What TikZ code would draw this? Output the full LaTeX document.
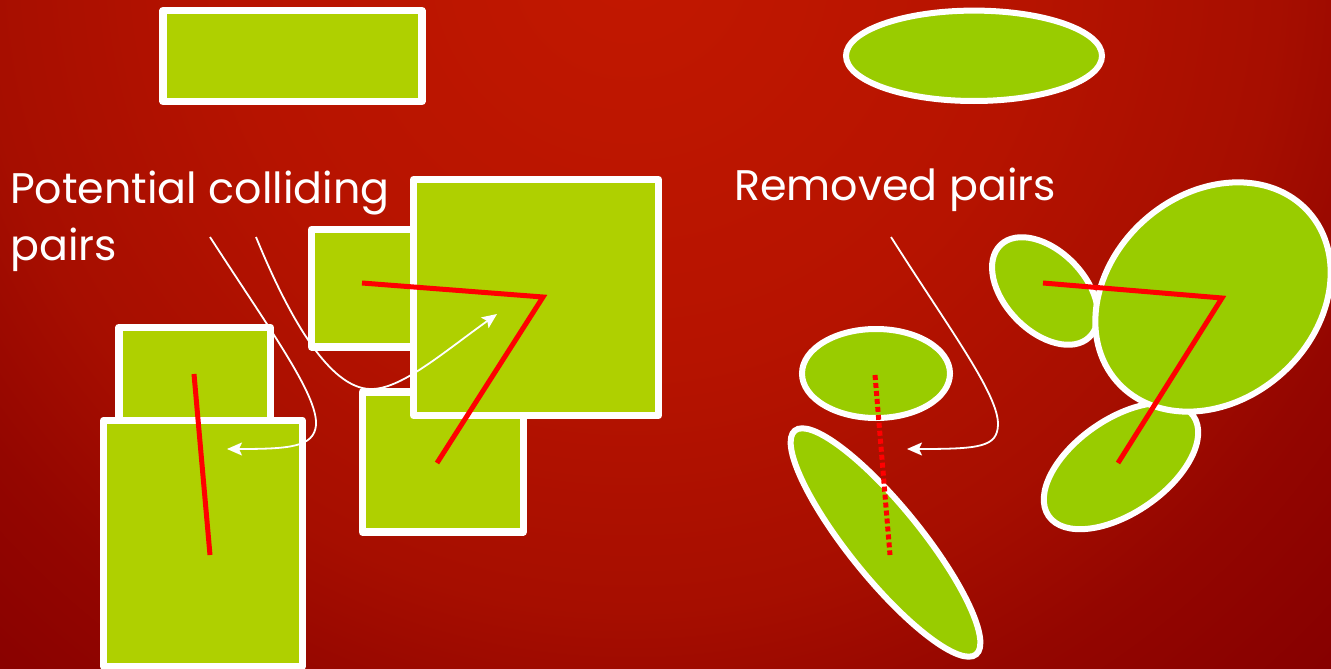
\documentclass[tikz,border=0pt]{standalone}
\usepackage{fontspec}
\setmainfont{Poppins}
\usetikzlibrary{arrows.meta,shapes.geometric}
\definecolor{bgA}{RGB}{194,24,0}
\definecolor{bgB}{RGB}{182,19,0}
\definecolor{bgC}{RGB}{166,14,0}
\definecolor{bgD}{RGB}{148,6,0}
\definecolor{bgE}{RGB}{134,0,0}
\definecolor{rectgreen}{RGB}{175,208,0}
\definecolor{ellgreen}{RGB}{153,204,0}
\definecolor{hotred}{RGB}{255,0,0}
\pgfdeclareradialshading{bgshade}{\pgfpoint{0bp}{0bp}}{color(0bp)=(bgA); color(10bp)=(bgB); color(16.25bp)=(bgC); color(20bp)=(bgD); color(25bp)=(bgE); color(50bp)=(bgE)}
\begin{document}
\begin{tikzpicture}[x=1pt,y=-1pt,
  rectbox/.style={rectangle, draw=white, fill=rectgreen, line width=7.2pt, line join=round, inner sep=0pt, outer sep=0pt},
  ellbox/.style={ellipse, draw=white, fill=ellgreen, line width=6pt, inner sep=0pt, outer sep=0pt},
  redline/.style={draw=hotred, line width=5pt},
  reddot/.style={redline, dash pattern=on 5pt off 3pt},
  pointer/.style={draw=white, line width=1.8pt, -{Stealth[length=15pt,width=13pt,inset=3pt]}},
  lbl/.style={text=white, inner sep=0pt, anchor=base west, font=\fontsize{42.8}{51}\selectfont}]
\useasboundingbox (0,0) rectangle (1331,669);
\clip (0,0) rectangle (1331,669);
\shade[shading=bgshade] (630,-40) circle [radius=1000pt];

% left panel shapes
\node[rectbox, minimum width=259pt, minimum height=91pt] (T) at (292.5,56) {};
\node[rectbox, minimum width=113.5pt, minimum height=117.5pt] (A) at (368.25,288.25) {};
\node[rectbox, minimum width=161pt, minimum height=140pt] (C) at (442.8,462) {};
\node[rectbox, minimum width=245pt, minimum height=236pt] (B) at (536,297.5) {};
\node[rectbox, minimum width=151.4pt, minimum height=102.7pt] (D) at (194.6,378.6) {};
\node[rectbox, minimum width=198.5pt, minimum height=246.2pt] (E) at (203,543.4) {};

% right panel shapes
\node[ellbox, minimum width=256pt, minimum height=90.4pt] (TE) at (974,55.8) {};
\node[ellbox, minimum width=148pt, minimum height=89pt] (F) at (876,373.5) {};
\node[ellbox, minimum width=288pt, minimum height=72pt, rotate=-51] (G) at (885.5,542.5) {};
\node[ellbox, minimum width=128pt, minimum height=80pt, rotate=-46] (I) at (1045,291) {};
\node[ellbox, minimum width=176pt, minimum height=94pt, rotate=34.6] (J) at (1121,466) {};
\node[ellbox, minimum width=256pt, minimum height=206pt, rotate=41.5] (H) at (1213,297) {};

% labels
\node[lbl] (lblL1) at (10,203) {Potential colliding};
\node[lbl] (lblL2) at (10,260) {pairs};
\node[lbl] (lblR) at (734,200) {Removed pairs};

% connector end points
\coordinate (s1) at (210,237);
\coordinate (t1) at (227,449);
\coordinate (s2) at (256,237);
\coordinate (t2) at (497,314);
\coordinate (s3) at (891,237);
\coordinate (t3) at (907,449);

% red centre links
\coordinate (pA) at (362,283);
\coordinate (pB) at (543,297);
\coordinate (pC) at (437,463);
\coordinate (pD) at (194,374);
\coordinate (pE) at (210,555);
\coordinate (pI) at (1043,283);
\coordinate (pH) at (1222,298);
\coordinate (pJ) at (1118,463);
\coordinate (pF) at (875,375);
\coordinate (pG) at (890,555);

\draw[redline] (pA) -- (pB) -- (pC);
\draw[redline] (pD) -- (pE);
\draw[redline] (pI) -- (pH) -- (pJ);
\draw[reddot] (pF) -- (pG);

% pointers
\draw[pointer] (s1) .. controls (270,330) and (318,395) .. (316,425) .. controls (314,447) and (290,449) .. (t1);
\draw[pointer] (s2) .. controls (290,320) and (330,388) .. (370,389) .. controls (400,390) and (440,355) .. (t2);
\draw[pointer] (s3) .. controls (950,330) and (999,395) .. (998,425) .. controls (997,447) and (980,449) .. (t3);
\end{tikzpicture}
\end{document}
